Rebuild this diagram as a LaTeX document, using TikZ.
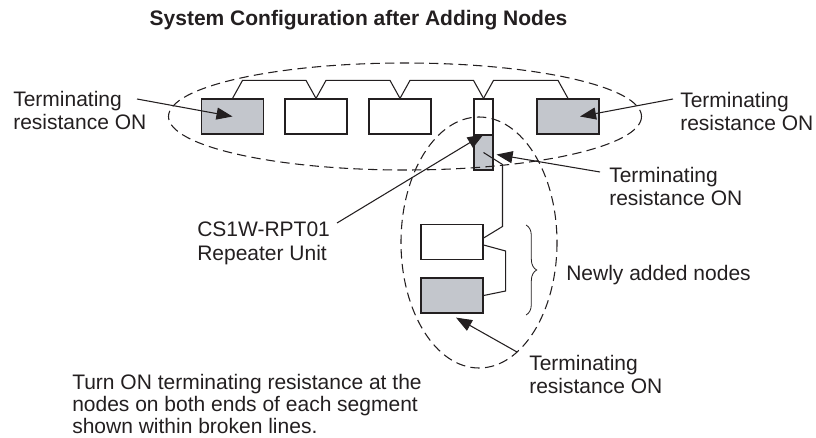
\documentclass[tikz,border=0pt]{standalone}
\usepackage{fontspec}
\setmainfont{Liberation Sans}
\usetikzlibrary{arrows.meta, calc, decorations.pathreplacing}
\definecolor{unitgray}{HTML}{C3C6CC}
\definecolor{inkgray}{HTML}{231F20}

\begin{document}
\begin{tikzpicture}[
  x=0.75pt, y=-0.75pt,
  every node/.style={font=\fontsize{15.75}{17.5}\selectfont, text=inkgray},
  unit/.style={
    rectangle, draw=inkgray, line width=0.9pt, fill=white,
    minimum width=46.5pt, minimum height=26.25pt, inner sep=0pt,
  },
  termunit/.style={unit, fill=unitgray},
  repunit/.style={unit, minimum width=14.25pt},
  textlabel/.style={anchor=north west, align=left, inner sep=0pt},
  wire/.style={draw=inkgray, line width=0.8pt},
  callout/.style={-{Triangle[length=12pt,width=9pt]}, line width=0.8pt, draw=inkgray},
  segment/.style={draw=inkgray, dash pattern=on 7pt off 4pt, line width=0.8pt},
]
\useasboundingbox (0,0) rectangle (816,438);

% Title
\node[font=\fontsize{15.75}{17.5}\selectfont\bfseries, anchor=base west]
      (title) at (145,26) {System Configuration after Adding Nodes};

% Existing segment
\node[termunit] (b1) at (232.5,116.5) {};
\node[unit]     (b2) at (316,116.5)   {};
\node[unit]     (b3) at (400,116.5)   {};
\node[repunit, minimum height=27pt]          (repU) at (483.5,117)   {};
\node[repunit, fill=unitgray]                (repL) at (483.5,152.5) {};
\node[termunit] (b5) at (568,116.5)   {};

% Newly added nodes
\node[unit]     (b6) at (452,242)     {};
\node[termunit] (b7) at (452,295.5)   {};

% Trunk line
\foreach \a/\b in {b1/b2, b2/b3, b3/repU, repU/b5}
  \draw[wire] (\a.north) -- ++(10,-18) -- ($(\b.north)+(-10,-18)$) -- (\b.north);

% Branch to new nodes
\draw[wire] (repL.center) -- ++(19,12) -- ++(0,62) -- ($(b6.east)+(0,-4)$);
\draw[wire] ($(b6.east)+(0,3)$) -- ++(22,6) -- ++(0,40) -- (b7.east);

% Segments (broken lines)
\draw[segment] (405,116.5) ellipse [x radius=236.5, y radius=53.5];
\draw[segment] (479,242.5) ellipse [x radius=78, y radius=125.5];

% Brace
\coordinate (brtop) at (526,225);
\coordinate (brbot) at (526,315);
\draw[wire, line width=0.6pt, decorate, decoration={brace, amplitude=8pt}] (brtop) -- (brbot);

% Labels
\node[textlabel] (termL)   at (13,91)   {Terminating\\resistance ON};
\node[textlabel] (termR)   at (680,92)  {Terminating\\resistance ON};
\node[textlabel] (termRep) at (609,167) {Terminating\\resistance ON};
\node[textlabel] (repname) at (197,222) {CS1W-RPT01\\Repeater Unit};
\node[anchor=base west, inner sep=0pt] (newly) at (566,280) {Newly added nodes};
\node[textlabel] (termNew) at (529,355) {Terminating\\resistance ON};
\node[textlabel, font=\fontsize{15.75}{16.5}\selectfont] (note) at (72,374)
  {Turn ON terminating resistance at the\\nodes on both ends of each segment\\shown within broken lines.};

% Callouts
\draw[callout] ($(termL.north west)+(124,8)$)  -- (b1.center);
\draw[callout] ($(termR.north west)+(-7,7)$)   -- ($(b5.center)+(12,0)$);
\draw[callout] ($(termRep.north west)+(-9,5)$) -- ($(repL.east)+(3,2)$);
\draw[callout] ($(repname.north west)+(140,1)$) -- (repL.north);
\draw[callout] ($(termNew.north west)+(-12,-3)$) -- ($(b7.south)+(4,4)$);

\end{tikzpicture}
\end{document}
